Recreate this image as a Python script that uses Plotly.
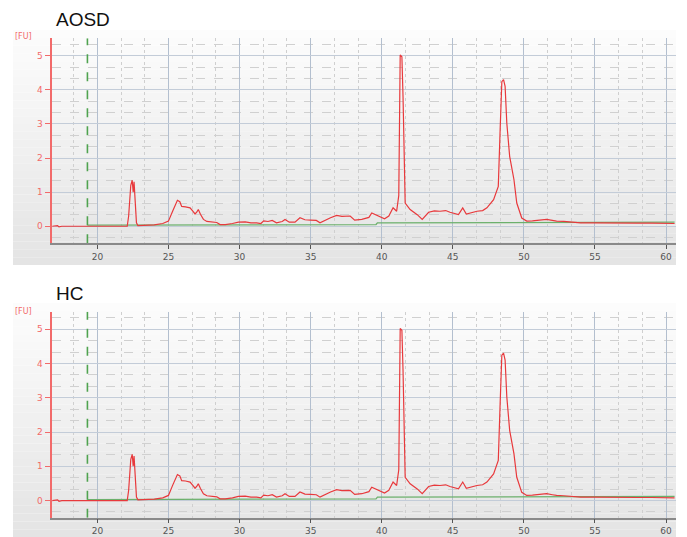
import plotly.graph_objects as go

# ---- data ----
panel_titles = ["AOSD", "HC"]
x_ticks = [20, 25, 30, 35, 40, 45, 50, 55, 60]
y_ticks = [0, 1, 2, 3, 4, 5]

trace_x = [16.8, 17.2, 17.3, 17.5, 19.3, 22.1, 22.2, 22.35, 22.45, 22.52, 22.58, 22.65, 22.75, 22.85,
           23.5, 24.0, 24.6, 25.0, 25.3, 25.63, 25.8, 25.93, 26.2, 26.52, 26.7, 26.87, 27.0, 27.1,
           27.25, 27.46, 27.7, 27.93, 28.2, 28.4, 28.63, 29.0, 29.5, 29.92, 30.4, 30.8, 31.2, 31.5,
           31.7, 32.0, 32.3, 32.6, 33.0, 33.2, 33.5, 33.9, 34.25, 34.6, 35.0, 35.4, 35.66, 36.0,
           36.4, 36.83, 37.2, 37.78, 38.1, 38.6, 39.1, 39.3, 39.6, 40.0, 40.2, 40.5, 40.8, 41.05,
           41.2, 41.3, 41.42, 41.5, 41.6, 41.65, 42.0, 42.5, 42.85, 43.3, 43.7, 44.1, 44.5, 44.8,
           45.4, 45.7, 45.95, 46.3, 46.7, 47.1, 47.4, 47.87, 48.2, 48.33, 48.45, 48.57, 48.68, 48.8,
           49.0, 49.3, 49.5, 49.85, 50.2, 50.6, 51.1, 51.6, 52.0, 52.3, 52.8, 53.5, 54.0, 55.0,
           56.0, 57.0, 58.0, 59.0, 60.0, 60.6]
aosd_y = [0.0, 0.02, -0.02, 0.0, 0.0, 0.0, 0.3, 1.2, 1.35, 1.0, 1.3, 0.8, 0.1, 0.02,
          0.02, 0.04, 0.08, 0.15, 0.45, 0.76, 0.72, 0.58, 0.57, 0.54, 0.45, 0.36, 0.42, 0.49,
          0.35, 0.2, 0.14, 0.13, 0.12, 0.11, 0.05, 0.05, 0.08, 0.12, 0.13, 0.1, 0.1, 0.08,
          0.16, 0.14, 0.17, 0.1, 0.14, 0.2, 0.12, 0.12, 0.25, 0.19, 0.18, 0.17, 0.1, 0.18,
          0.25, 0.32, 0.29, 0.3, 0.18, 0.2, 0.26, 0.39, 0.33, 0.26, 0.22, 0.3, 0.54, 0.44,
          0.9, 5.02, 4.97, 3.8, 1.2, 0.68, 0.49, 0.34, 0.2, 0.41, 0.45, 0.44, 0.46, 0.41,
          0.34, 0.54, 0.36, 0.4, 0.44, 0.46, 0.54, 0.78, 1.17, 2.83, 4.24, 4.3, 4.1, 3.02,
          2.05, 1.37, 0.68, 0.24, 0.15, 0.16, 0.17, 0.2, 0.17, 0.15, 0.14, 0.12, 0.1, 0.1,
          0.09, 0.1, 0.09, 0.09, 0.09, 0.08]
hc_y = list(aosd_y)

baseline_x = [19.3, 39.6, 39.7, 60.6]
baseline_y = [0.03, 0.05, 0.10, 0.12]
marker_x = 19.3  # green dashed vertical marker

# ---- layout geometry (reference pixels -> paper fractions; page body has 8px margin) ----
OFF = 8
W, H = 687 - OFF, 537 - OFF
def px(x): return (x - OFF) / W
def py(y): return 1 - (y - OFF) / H

x_dom = [px(52.3), px(676)]
y_doms = [[py(243.3), py(38.3)], [py(517.7), py(311.7)]]
x_range = [16.83, 60.7]
y_range = [-0.5, 5.51]
panel_boxes = [(30, 265), (303, 537)]  # y top/bottom of grey panel area
title_y = [20, 293]
fu_y = [37, 311]

RED = "#e8393c"
AXRED = "#f26a6a"

fig = go.Figure()
series = [aosd_y, hc_y]
for i in range(2):
    xa = "x" if i == 0 else "x2"
    ya = "y" if i == 0 else "y2"
    fig.add_trace(go.Scatter(x=baseline_x, y=baseline_y, mode="lines",
                             line=dict(color="#6cb06c", width=1.3),
                             xaxis=xa, yaxis=ya, showlegend=False, hoverinfo="skip"))
    fig.add_trace(go.Scatter(x=trace_x, y=series[i], mode="lines",
                             line=dict(color=RED, width=1.2),
                             xaxis=xa, yaxis=ya, showlegend=False))
    fig.add_trace(go.Scatter(x=[marker_x, marker_x], y=[y_range[0], y_range[1]], mode="lines",
                             line=dict(color="#4fa34f", width=1.6, dash="dash"),
                             xaxis=xa, yaxis=ya, showlegend=False, hoverinfo="skip"))

shapes = []
for (top, bot) in panel_boxes:
    n = 30
    for k in range(n):
        t = k / (n - 1)
        c = int(round(252 - 24 * t))
        y0 = top + (bot - top) * k / n
        y1 = top + (bot - top) * (k + 1) / n
        shapes.append(dict(type="rect", xref="paper", yref="paper",
                           x0=px(13), x1=px(676), y0=py(y1), y1=py(y0),
                           fillcolor=f"rgb({c},{c},{c})", line=dict(width=0), layer="below"))

annotations = []
for i in range(2):
    annotations.append(dict(text=panel_titles[i], xref="paper", yref="paper",
                            x=px(54), y=py(title_y[i]), xanchor="left", yanchor="middle",
                            showarrow=False, font=dict(family="Liberation Sans, Arial", size=19, color="#111")))
    annotations.append(dict(text="[FU]", xref="paper", yref="paper",
                            x=px(13), y=py(fu_y[i]), xanchor="left", yanchor="middle",
                            showarrow=False, font=dict(family="DejaVu Sans", size=8, color=AXRED)))

def xaxis_cfg(anchor):
    return dict(domain=x_dom, range=x_range, anchor=anchor, tickmode="array", tickvals=x_ticks,
                ticks="outside", ticklen=4, tickcolor="#555", tickwidth=1,
                tickfont=dict(family="DejaVu Sans", size=9, color="#555"),
                showline=True, linecolor="#8a8a8a", linewidth=1.5,
                showgrid=True, gridcolor="#b3bfcf", gridwidth=1.2, zeroline=False,
                minor=dict(tick0=20, dtick=5 / 3, showgrid=True, gridcolor="#cfcfcf",
                           griddash="dot", gridwidth=1, ticks=""))

def yaxis_cfg(anchor, dom):
    return dict(domain=dom, range=y_range, anchor=anchor, tickmode="array", tickvals=y_ticks,
                ticks="outside", ticklen=6, tickcolor=AXRED, tickwidth=1,
                tickfont=dict(family="DejaVu Sans", size=9, color=AXRED),
                showline=True, linecolor=AXRED, linewidth=1.6,
                showgrid=True, gridcolor="#c3ccd8", gridwidth=1.2, zeroline=False,
                minor=dict(tick0=0, dtick=1 / 3, showgrid=True, gridcolor="#d0d0d0",
                           griddash="dash", gridwidth=1, ticks=""))

fig.update_layout(
    width=W, height=H, margin=dict(l=0, r=0, t=0, b=0),
    paper_bgcolor="white", plot_bgcolor="rgba(0,0,0,0)",
    xaxis=xaxis_cfg("y"), yaxis=yaxis_cfg("x", y_doms[0]),
    xaxis2=xaxis_cfg("y2"), yaxis2=yaxis_cfg("x2", y_doms[1]),
    shapes=shapes, annotations=annotations, showlegend=False,
)

fig.write_html("out.html")
